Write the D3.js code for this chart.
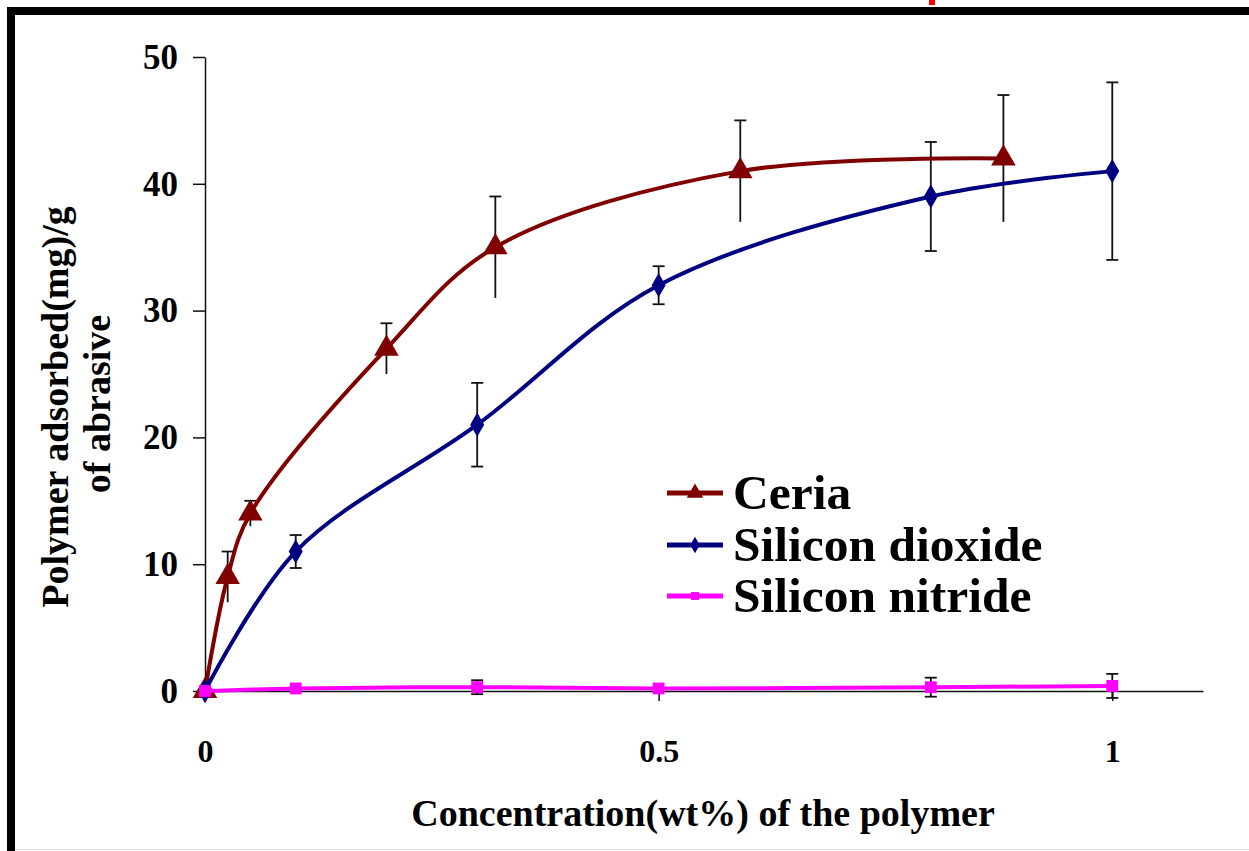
<!DOCTYPE html>
<html>
<head>
<meta charset="utf-8">
<script src="https://cdn.jsdelivr.net/npm/d3@7"></script>
<style>
  body { margin: 0; background: #fff; }
  svg text { font-family: "Liberation Serif", "Times New Roman", serif; font-weight: bold; fill: #000; }
</style>
</head>
<body>
<div id="chart"></div>
<script>
// Polymer adsorption on abrasives
const ceriaX = [0, 0.025, 0.05, 0.2, 0.32, 0.59, 0.88];
const ceriaY = [0, 9, 14, 27, 35, 41, 42];
const ceriaErr = [0, 2, 1, 2, 4, 4, 5];

const oxideX = [0, 0.1, 0.3, 0.5, 0.8, 1];
const oxideY = [0, 11, 21, 32, 39, 41];
const oxideErr = [0, 1.3, 3.3, 1.5, 4.3, 7];

const nitrideX = [0, 0.1, 0.3, 0.5, 0.8, 1];
const nitrideY = [0, 0.2, 0.3, 0.2, 0.3, 0.4];
const nitrideErr = [0, 0, 0.55, 0, 0.75, 0.95];

const xTicks = [0, 0.5, 1];
const yTicks = [0, 10, 20, 30, 40, 50];
const seriesNames = ['Ceria', 'Silicon dioxide', 'Silicon nitride'];

const width = 1249, height = 851;

const svg = d3.select('#chart')
    .append('svg')
    .attr('width', width)
    .attr('height', height);

// frame around the figure
svg.append('rect').attr('x', 0).attr('y', 0).attr('width', width).attr('height', height).attr('fill', '#fff');
svg.append('rect').attr('x', 7).attr('y', 7).attr('width', width - 7).attr('height', 8).attr('fill', '#000');
svg.append('rect').attr('x', 7).attr('y', 7).attr('width', 8).attr('height', height - 7).attr('fill', '#000');
svg.append('line').attr('x1', 15).attr('x2', width).attr('y1', 849.5).attr('y2', 849.5)
    .attr('stroke', '#ddd').attr('stroke-width', 1);
svg.append('rect').attr('x', 929).attr('y', 0).attr('width', 6).attr('height', 5).attr('fill', '#f00');

const x = d3.scaleLinear().domain([0, 1.1]).range([205, 1203]);
const y = d3.scaleLinear().domain([0, 50]).range([691, 57]);

// axes
const yAxis = svg.append('g')
    .attr('transform', 'translate(' + x(0) + ',0)')
    .call(d3.axisLeft(y).tickValues(yTicks).tickSize(12).tickSizeOuter(0).tickPadding(15).tickFormat(d3.format('d')));
const xAxis = svg.append('g')
    .attr('transform', 'translate(0,' + y(0) + ')')
    .call(d3.axisBottom(x).tickValues(xTicks).tickSize(10).tickSizeOuter(0).tickFormat(d => String(d)));

[xAxis, yAxis].forEach(function(g) {
    g.attr('font-family', null).attr('font-size', null);
    g.select('.domain').attr('stroke', '#111').attr('stroke-width', 1.5);
    g.selectAll('.tick line').attr('stroke', '#111').attr('stroke-width', 1.5);
    g.selectAll('.tick text').attr('fill', '#000');
});
yAxis.selectAll('.tick text').attr('font-size', '35px');
xAxis.selectAll('.tick text').attr('font-size', '32px').attr('y', 71).attr('dy', 0);

// axis titles
svg.append('text')
    .attr('x', 703).attr('y', 826)
    .attr('text-anchor', 'middle')
    .attr('font-size', '38px')
    .text('Concentration(wt%) of the polymer');

svg.append('text')
    .attr('transform', 'translate(68,407) rotate(-90)')
    .attr('text-anchor', 'middle')
    .attr('font-size', '38px')
    .text('Polymer adsorbed(mg)/g');
svg.append('text')
    .attr('transform', 'translate(110,404) rotate(-90)')
    .attr('text-anchor', 'middle')
    .attr('font-size', '38px')
    .text('of abrasive');

const series = [
    { name: seriesNames[0], xs: ceriaX, ys: ceriaY, err: ceriaErr, color: '#800000', symbol: d3.symbolTriangle, size: 260, capsBottom: false },
    { name: seriesNames[1], xs: oxideX, ys: oxideY, err: oxideErr, color: '#000080', symbol: d3.symbolDiamond, size: 170, capsBottom: true },
    { name: seriesNames[2], xs: nitrideX, ys: nitrideY, err: nitrideErr, color: '#ff00ff', symbol: d3.symbolSquare, size: 140, capsBottom: true }
];

// error bars (behind the markers)
const capW = 6;
series.forEach(function(s) {
    const pts = s.xs.map((v, i) => ({ x: v, y: s.ys[i], e: s.err[i] })).filter(p => p.e > 0);
    const g = svg.append('g').attr('stroke', '#111').attr('stroke-width', 1.8);
    pts.forEach(function(p) {
        g.append('line')
            .attr('x1', x(p.x)).attr('x2', x(p.x))
            .attr('y1', y(p.y + p.e)).attr('y2', y(p.y - p.e));
        g.append('line')
            .attr('x1', x(p.x) - capW).attr('x2', x(p.x) + capW)
            .attr('y1', y(p.y + p.e)).attr('y2', y(p.y + p.e));
        if (s.capsBottom) {
            g.append('line')
                .attr('x1', x(p.x) - capW).attr('x2', x(p.x) + capW)
                .attr('y1', y(p.y - p.e)).attr('y2', y(p.y - p.e));
        }
    });
});

// smoothed lines and markers
const line = d3.line()
    .x(d => x(d[0]))
    .y(d => y(d[1]))
    .curve(d3.curveCatmullRom.alpha(0.5));

series.forEach(function(s) {
    const pts = s.xs.map((v, i) => [v, s.ys[i]]);
    svg.append('path')
        .datum(pts)
        .attr('d', line)
        .attr('fill', 'none')
        .attr('stroke', s.color)
        .attr('stroke-width', 4);
    svg.selectAll(null)
        .data(pts)
        .enter()
        .append('path')
        .attr('transform', d => 'translate(' + x(d[0]) + ',' + y(d[1]) + ')')
        .attr('d', d3.symbol().type(s.symbol).size(s.size))
        .attr('fill', s.color);
});

// legend
const legendRows = [493, 545, 596];
const legend = svg.append('g').attr('transform', 'translate(667,0)');
series.forEach(function(s, i) {
    const row = legend.append('g').attr('transform', 'translate(0,' + legendRows[i] + ')');
    row.append('line')
        .attr('x1', 0).attr('x2', 56)
        .attr('stroke', s.color)
        .attr('stroke-width', 5);
    row.append('path')
        .attr('transform', 'translate(28,0)')
        .attr('d', d3.symbol().type(s.symbol).size(s.size * 0.45))
        .attr('fill', s.color);
    row.append('text')
        .attr('x', 66).attr('y', 16)
        .attr('font-size', '49.5px')
        .text(s.name);
});
</script>
</body>
</html>
